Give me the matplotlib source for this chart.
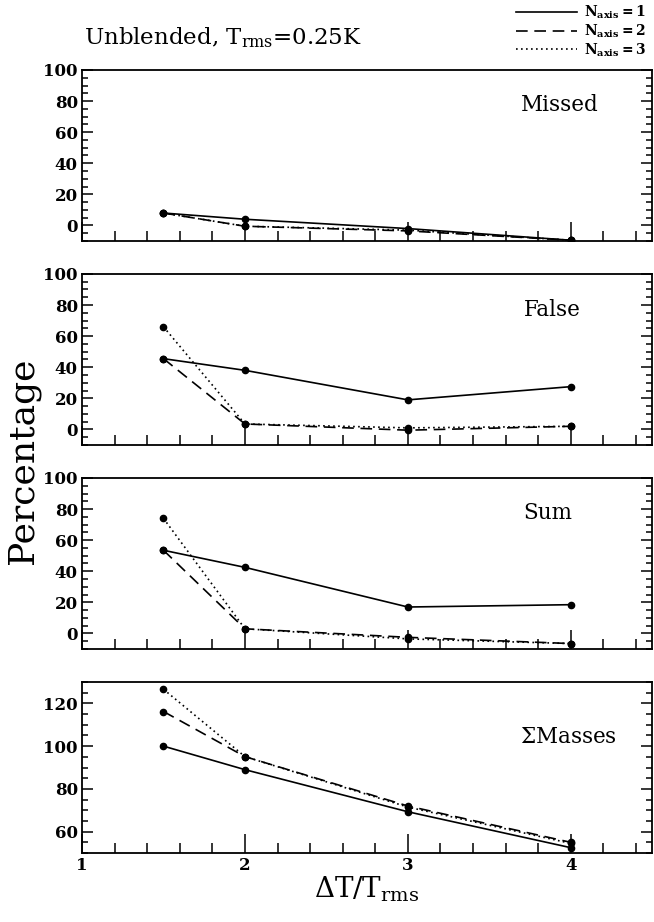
import matplotlib.pyplot as plt
from matplotlib.lines import Line2D
from matplotlib.ticker import MultipleLocator

plt.rcParams['font.family'] = 'DejaVu Serif'
plt.rcParams['mathtext.fontset'] = 'dejavuserif'

# x values: Delta T / T_rms
dT = [1.5, 2, 3, 4]

# percentages, one list per N_axis
missed_n1 = [8, 4, -2, -9.5]
missed_n2 = [8, -0.5, -3.5, -9.5]
missed_n3 = [8, -0.5, -3, -9.5]

false_n1 = [45.5, 38, 19, 27.5]
false_n2 = [45.5, 3.5, -0.5, 2]
false_n3 = [66, 3.5, 1, 2]

sum_n1 = [53.5, 42.5, 17, 18.5]
sum_n2 = [53.5, 3, -2.5, -6.5]
sum_n3 = [74, 3, -3.5, -6.5]

mass_n1 = [100, 89, 69.3, 52.5]
mass_n2 = [116.2, 95.1, 72, 55]
mass_n3 = [126.6, 95.1, 71.5, 54.5]

panel_names = ["Missed", "False", "Sum", r"$\Sigma$Masses"]
panel_data = [
    (missed_n1, missed_n2, missed_n3),
    (false_n1, false_n2, false_n3),
    (sum_n1, sum_n2, sum_n3),
    (mass_n1, mass_n2, mass_n3),
]
legend_labels = [r"$\mathbf{N_{axis}=1}$", r"$\mathbf{N_{axis}=2}$", r"$\mathbf{N_{axis}=3}$"]

line_styles = ['-', (0, (7, 4)), (0, (1, 2))]
bottoms = [0.7386, 0.5174, 0.2961, 0.0748]
ylims = [(-10, 100), (-10, 100), (-10, 100), (50, 130)]
label_x = [0.906, 0.875, 0.859, 0.937]
label_y = [0.795, 0.79, 0.795, 0.68]

fig = plt.figure(figsize=(6.54, 9.22), dpi=100)

for i in range(4):
    ax = fig.add_axes([0.1254, bottoms[i], 0.872, 0.1855])
    for series, ls in zip(panel_data[i], line_styles):
        ax.plot(dT, series, color='k', lw=1.2, ls=ls, marker='o', ms=4.5)
    ax.set_xlim(1, 4.5)
    ax.set_ylim(*ylims[i])
    ax.xaxis.set_major_locator(MultipleLocator(1))
    ax.xaxis.set_minor_locator(MultipleLocator(0.2))
    ax.yaxis.set_major_locator(MultipleLocator(20))
    ax.yaxis.set_minor_locator(MultipleLocator(5))
    ax.tick_params(which='both', direction='in', right=True, top=False, width=1.1)
    ax.tick_params(axis='x', which='major', length=14)
    ax.tick_params(axis='x', which='minor', length=7)
    ax.tick_params(axis='y', which='major', length=8)
    ax.tick_params(axis='y', which='minor', length=4)
    ax.tick_params(labelsize=12, pad=3)
    for lab in ax.get_xticklabels() + ax.get_yticklabels():
        lab.set_fontweight('bold')
    for sp in ax.spines.values():
        sp.set_linewidth(1.3)
    if i < 3:
        ax.tick_params(axis='x', labelbottom=False)
    else:
        ax.set_xlabel(r"$\Delta$T/T$_{\rm rms}$", fontsize=20, labelpad=0)
    ax.text(label_x[i], label_y[i], panel_names[i], transform=ax.transAxes,
            ha='right', va='center', fontsize=15.5)

fig.text(0.128, 1 - 44 / 922, r"Unblended, T$_{\rm rms}$=0.25K", fontsize=16.5,
         ha='left', va='baseline')
fig.text(0.035, 0.5, "Percentage", rotation=90, fontsize=26, ha='center', va='center')

handles = [Line2D([], [], color='k', lw=1.2, ls=ls) for ls in line_styles]
fig.legend(handles, legend_labels, loc='upper right', bbox_to_anchor=(1.0, 1.005),
           frameon=False, fontsize=10, handlelength=4.4, handletextpad=0.5,
           labelspacing=0.1, borderaxespad=0.2)

fig.savefig("out.png", dpi=100)
